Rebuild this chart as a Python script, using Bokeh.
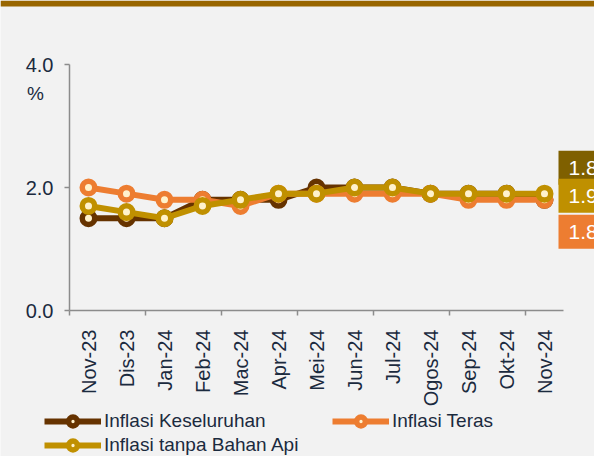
import numpy as np
from bokeh.plotting import figure
from bokeh.models import (Range1d, FixedTicker, LinearAxis, Legend, LegendItem,
                          Label, BoxAnnotation, NumeralTickFormatter)
from bokeh.embed import file_html
from bokeh.resources import INLINE

categories = ["Nov-23", "Dis-23", "Jan-24", "Feb-24", "Mac-24", "Apr-24", "Mei-24",
              "Jun-24", "Jul-24", "Ogos-24", "Sep-24", "Okt-24", "Nov-24"]
keseluruhan = [1.5, 1.5, 1.5, 1.8, 1.8, 1.8, 2.0, 2.0, 2.0, 1.9, 1.9, 1.9, 1.8]
teras = [2.0, 1.9, 1.8, 1.8, 1.7, 1.9, 1.9, 1.9, 1.9, 1.9, 1.8, 1.8, 1.8]
tanpa_bahan_api = [1.7, 1.6, 1.5, 1.7, 1.8, 1.9, 1.9, 2.0, 2.0, 1.9, 1.9, 1.9, 1.9]
series_names = ["Inflasi Keseluruhan", "Inflasi Teras", "Inflasi tanpa Bahan Api"]
y_ticks = [0, 2, 4]
y_unit = "%"

BG = "#F2F2F2"
TXT = "#1B2A3E"
AX = "#8C8C8C"
FONT = "Liberation Sans"
# per series: keseluruhan, teras, tanpa bahan api
line_colors = ["#663300", "#ED7D31", "#C09000"]
box_colors = ["#7F6000", "#ED7D31", "#BF9000"]
marker_fill = "#FFF2CC"

n = len(categories)
xs = np.arange(n) + 0.5
y_max = max(y_ticks)

# canvas geometry (px)
W, H = 594, 456
AX_LEFT = 69        # y axis position
AX_TOP = 64         # top of value axis
AX_BOTTOM = 310     # x axis position
CAT_W = 38.0
PX_PER_UNIT = (AX_BOTTOM - AX_TOP) / y_max

x_start = -AX_LEFT / CAT_W
x_end = (W - AX_LEFT) / CAT_W
y_end = y_max + AX_TOP / PX_PER_UNIT
y_start = -(H - AX_BOTTOM) / PX_PER_UNIT

p = figure(width=W, height=H, output_backend="svg", toolbar_location=None,
           x_range=Range1d(x_start, x_end), y_range=Range1d(y_start, y_end),
           x_axis_type=None, y_axis_type=None,
           min_border_left=0, min_border_right=0, min_border_top=0, min_border_bottom=0)
p.background_fill_color = BG
p.border_fill_color = BG
p.outline_line_color = None
p.xgrid.visible = False
p.ygrid.visible = False

# top brown bar
p.add_layout(BoxAnnotation(bottom=y_end - 6 / PX_PER_UNIT, fill_color="#996600",
                           fill_alpha=1, line_alpha=0))

# x axis: labels at category centres, tick marks at every second boundary
xt = FixedTicker(ticks=list(xs), minor_ticks=list(np.arange(0, n, 2)))
xaxis = LinearAxis(ticker=xt, bounds=(0, n), fixed_location=0)
xaxis.major_label_overrides = {float(x): c for x, c in zip(xs, categories)}
xaxis.major_label_orientation = np.pi / 2
xaxis.major_tick_out = 0
xaxis.major_tick_in = 0
xaxis.minor_tick_out = 5
xaxis.minor_tick_in = 0
xaxis.minor_tick_line_color = AX
xaxis.minor_tick_line_width = 1.5
xaxis.axis_line_color = AX
xaxis.axis_line_width = 1.5
xaxis.major_label_text_font = FONT
xaxis.major_label_text_font_size = "20px"
xaxis.major_label_text_color = TXT
xaxis.major_label_standoff = 14
p.add_layout(xaxis, "below")

# y axis
yaxis = LinearAxis(ticker=FixedTicker(ticks=y_ticks, minor_ticks=[]),
                   bounds=(0, y_max), fixed_location=0)
yaxis.formatter = NumeralTickFormatter(format="0.0")
yaxis.major_tick_out = 5
yaxis.major_tick_in = 0
yaxis.major_tick_line_color = AX
yaxis.major_tick_line_width = 1.5
yaxis.axis_line_color = AX
yaxis.axis_line_width = 1.5
yaxis.major_label_text_font = FONT
yaxis.major_label_text_font_size = "20px"
yaxis.major_label_text_color = TXT
yaxis.major_label_standoff = 11
p.add_layout(yaxis, "left")

# unit label under the top tick
p.add_layout(Label(x=0, y=y_max, x_offset=-34, y_offset=-29, text=y_unit,
                   text_font=FONT, text_font_size="19px", text_color=TXT,
                   text_align="center", text_baseline="middle"))

items = []
all_series = [keseluruhan, teras, tanpa_bahan_api]
for name, vals, col in zip(series_names, all_series, line_colors):
    r1 = p.line(xs, vals, line_color=col, line_width=6)
    r2 = p.scatter(xs, vals, size=12.5, line_width=5.5, line_color=col, fill_color=marker_fill)
    items.append(LegendItem(label=name, renderers=[r1, r2]))

legend = Legend(items=items, orientation="horizontal", ncols=2,
                location=(44, 0), glyph_width=57, glyph_height=22,
                label_height=22, label_width=226, spacing=2, padding=0, margin=0,
                label_standoff=3, label_text_font=FONT, label_text_font_size="19px",
                label_text_color=TXT, background_fill_alpha=0, border_line_alpha=0)
p.add_layout(legend, "center")

# end-of-line value labels (stacked: keseluruhan top, tanpa middle, teras bottom)
offsets = [32, -32, -2]
for vals, bc, off in zip(all_series, box_colors, offsets):
    p.add_layout(Label(x=xs[-1], y=vals[-1], x_offset=14, y_offset=off,
                       text=f"{vals[-1]:.1f}", text_font=FONT, text_font_size="21px",
                       text_color="white", text_baseline="middle", text_align="left",
                       background_fill_color=bc, padding=10))

open("out.html", "w").write(file_html(p, INLINE))
